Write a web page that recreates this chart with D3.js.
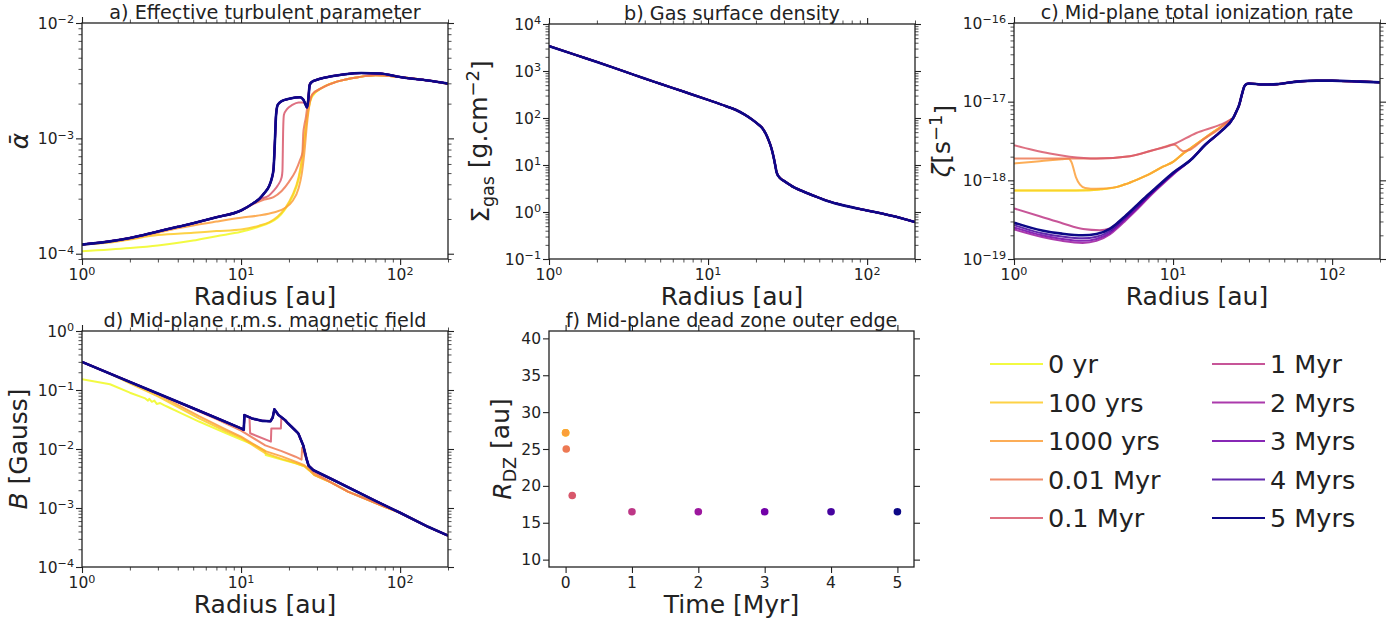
<!DOCTYPE html>
<html>
<head>
<meta charset="utf-8">
<script src="https://cdn.jsdelivr.net/npm/d3@7"></script>
<style>
  body { margin: 0; background: #fff; }
  svg { font-family: "DejaVu Sans", sans-serif; }
</style>
</head>
<body>
<svg id="fig" width="1400" height="624"></svg>
<script>
// --- Zeitschritte / Legende
const seriesNames = ["0 yr", "100 yrs", "1000 yrs", "0.01 Myr", "0.1 Myr",
                     "1 Myr", "2 Myrs", "3 Myrs", "4 Myrs", "5 Myrs"];
const timesMyr = [0, 0.0001, 0.001, 0.01, 0.1, 1, 2, 3, 4, 5];
const rdzAu    = [27.2, 27.2, 27.2, 25.0, 18.7, 16.5, 16.5, 16.5, 16.5, 16.5];

// --- a) alpha effektiv  [r (au), alpha]
const alphaOuterLow  = [[32,2.72e-3],[40,3.1e-3],[55,3.4e-3],[70,3.52e-3],[100,3.4e-3],[150,3.17e-3],[200,2.97e-3]];
const alphaOuterHigh = [[30,3.22e-3],[37,3.45e-3],[45,3.6e-3],[57,3.69e-3],[75,3.65e-3],[100,3.4e-3],[150,3.17e-3],[200,2.98e-3]];
const alpha0yr   = [[1,1.05e-4],[2,1.12e-4],[3,1.18e-4],[5,1.3e-4],[7,1.42e-4],[10,1.55e-4],[13,1.72e-4],[15,1.85e-4],[17,2.05e-4],[19,2.45e-4],[21,3.1e-4],[23,4.4e-4],[24,6e-4],[25,9.8e-4],[26,1.5e-3],[27,2.0e-3],[28,2.3e-3]];
const alpha100yr = [[1,1.2e-4],[1.5,1.25e-4],[2,1.33e-4],[3,1.45e-4],[5,1.52e-4],[7,1.57e-4],[10,1.62e-4],[13,1.75e-4],[15,1.87e-4],[17,2.1e-4],[19,2.5e-4],[21,3.2e-4],[23,4.6e-4],[24,6.3e-4],[25,1.0e-3],[26,1.55e-3],[27,2.05e-3],[28,2.35e-3]];
const alpha1000yr = [[1,1.2e-4],[2,1.34e-4],[3,1.52e-4],[4,1.66e-4],[5,1.76e-4],[7,1.9e-4],[10,2.05e-4],[13,2.15e-4],[16,2.28e-4],[19,2.5e-4],[21,2.85e-4],[23,3.7e-4],[24,4.8e-4],[25,7.5e-4],[26,1.35e-3],[27,2.0e-3],[28,2.4e-3]];
const alpha001Myr = [[1,1.2e-4],[2,1.37e-4],[3,1.56e-4],[5,1.84e-4],[7,2.07e-4],[10,2.37e-4],[12,2.7e-4],[14,2.95e-4],[16,3.1e-4],[18,3.5e-4],[20,4.2e-4],[22,5.2e-4],[23.5,6.5e-4],[24.3,7.5e-4],[24.6,1.1e-3],[25,1.3e-3],[25.5,1.5e-3],[26,1.8e-3],[27,2.1e-3],[28,2.4e-3]];
const alpha01Myr  = [[1,1.2e-4],[2,1.37e-4],[3,1.56e-4],[5,1.84e-4],[7,2.07e-4],[10,2.37e-4],[12,2.75e-4],[13,2.95e-4],[15,3.2e-4],[16,3.5e-4],[17,3.9e-4],[18,4.6e-4],[18.2,5.2e-4],[18.4,1.2e-3],[18.6,1.6e-3],[19.5,1.8e-3],[21,1.95e-3],[23,2.05e-3],[24.5,2.05e-3],[25.5,1.95e-3],[26,1.9e-3],[26.5,2.3e-3],[27,2.95e-3],[28,3.1e-3]];
const alphaLate   = [[1,1.2e-4],[1.5,1.28e-4],[2,1.37e-4],[3,1.56e-4],[4,1.71e-4],[5,1.84e-4],[7,2.07e-4],[10,2.37e-4],[12,2.75e-4],[13,2.98e-4],[14,3.35e-4],[15,3.85e-4],[15.6,4.5e-4],[16,5.4e-4],[16.3,9e-4],[16.6,1.6e-3],[17,1.95e-3],[18,2.1e-3],[20,2.2e-3],[22,2.26e-3],[23.5,2.27e-3],[24.6,2.17e-3],[25.5,1.95e-3],[26,1.85e-3],[26.5,2.2e-3],[27,2.9e-3],[28,3.1e-3]];

// --- b) Gasflächendichte (für alle Zeiten gleich)
const sigmaGas = [[1,3400],[1.5,2150],[2,1560],[3,970],[4,690],[5,535],[7,365],[10,243],[13,178],[15,148],[17,118],[19,92],[21,70],[22,60],[23,47],[24,34],[25,23],[25.8,15],[26.5,9.5],[27,6.9],[28.3,5.3],[30,4.6],[35,3.3],[40,2.7],[50,2.0],[57,1.7],[70,1.4],[100,1.08],[150,0.8],[200,0.61]];

// --- c) Ionisationsrate
const zetaOuter = [[24,6.3e-18],[25,7.5e-18],[26,9e-18],[27,1.2e-17],[28,1.55e-17],[29,1.68e-17],[30,1.7e-17],[37,1.65e-17],[45,1.67e-17],[60,1.8e-17],[80,1.85e-17],[100,1.85e-17],[150,1.8e-17],[200,1.76e-17]];
const zetaRise  = [[13,1.84e-18],[16,2.85e-18],[20,4.2e-18]];
const zeta0yr    = [[1,7.4e-19],[2,7.4e-19],[3,7.5e-19],[3.5,7.7e-19],[4.4,8.2e-19],[5,8.9e-19],[6,1.03e-18],[7,1.18e-18],[8.7,1.5e-18],[10,1.72e-18],[11.6,2.2e-18],[13,2.6e-18],[16.3,3.6e-18],[20,4.8e-18],[23,5.9e-18]];
const zeta1000yr = [[1,1.64e-18],[1.45,1.75e-18],[2,1.85e-18],[2.2,1.88e-18],[2.3,1.7e-18],[2.45,1.1e-18],[2.6,8.8e-19],[2.8,8.0e-19],[3.3,7.8e-19],[4.4,8.2e-19],[5,8.9e-19],[6,1.03e-18],[7,1.18e-18],[8.7,1.5e-18],[10,1.72e-18],[11.6,2.2e-18],[13,2.6e-18],[16.3,3.6e-18],[20,4.8e-18],[23,5.9e-18]];
const zeta001Myr = [[1,1.9e-18],[2.2,1.9e-18],[3.3,1.9e-18],[5.35,2.03e-18],[7.2,2.36e-18],[9,2.7e-18],[10,2.85e-18],[10.5,2.75e-18],[11,2.5e-18],[11.6,2.35e-18],[12.8,2.45e-18],[15.5,3.3e-18],[19.8,4.6e-18],[23,5.9e-18]];
const zeta01Myr  = [[1,2.8e-18],[1.3,2.45e-18],[1.68,2.19e-18],[2.24,2.0e-18],[3.3,1.9e-18],[5.35,2.03e-18],[7.16,2.36e-18],[10,2.85e-18],[14,4.0e-18],[19.8,5.1e-18],[23,5.9e-18]];
const zeta1Myr   = [[1,4.4e-19],[1.45,3.5e-19],[2.03,2.83e-19],[2.72,2.4e-19],[3.46,2.32e-19],[4,2.45e-19],[4.5,2.9e-19],[5,3.5e-19],[6,4.94e-19],[7,6.6e-19],[8,8.4e-19],[10,1.25e-18]];
const zeta2Myr   = [[1,2.38e-19],[1.5,1.9e-19],[2,1.7e-19],[2.7,1.6e-19],[3.3,1.7e-19],[4,2.05e-19],[4.5,2.5e-19],[5,3.05e-19],[6,4.35e-19],[7,6.0e-19],[8,7.8e-19],[10,1.18e-18]];
const zeta3Myr   = [[1,2.52e-19],[1.5,2.0e-19],[2,1.8e-19],[2.7,1.7e-19],[3.3,1.8e-19],[4,2.15e-19],[4.5,2.62e-19],[5,3.2e-19],[6,4.5e-19],[7,6.2e-19],[8,8.0e-19],[10,1.2e-18]];
const zeta4Myr   = [[1,2.7e-19],[1.5,2.12e-19],[2,1.93e-19],[2.7,1.83e-19],[3.3,1.92e-19],[4,2.27e-19],[4.5,2.75e-19],[5,3.35e-19],[6,4.7e-19],[7,6.4e-19],[8,8.2e-19],[10,1.22e-18]];
const zeta5Myr   = [[1,2.9e-19],[1.5,2.3e-19],[2,2.1e-19],[2.7,2.0e-19],[3.3,2.08e-19],[4,2.42e-19],[4.5,2.9e-19],[5,3.5e-19],[6,4.94e-19],[7,6.6e-19],[8,8.4e-19],[10,1.25e-18]];

// --- d) Magnetfeld
const bOuterLow  = [[29,0.0036],[37,0.0027],[47,0.0019],[60,0.00145],[80,0.00105],[100,0.00083],[150,0.00048],[200,0.00034]];
const bOuterHigh = [[28.4,0.0044],[37,0.0031],[47,0.00225],[70,0.00132],[100,0.00083],[150,0.00048],[200,0.00034]];
const b0yr    = [[1,0.152],[1.5,0.125],[2,0.09],[2.5,0.072],[2.6,0.066],[2.65,0.071],[2.75,0.063],[2.85,0.066],[2.95,0.058],[3.1,0.06],[3.3,0.055],[3.5,0.051],[4,0.043],[5.44,0.0292],[8,0.0186],[10,0.0145],[12,0.0118],[14.2,0.0093],[14.3,0.0079],[18,0.0066],[22,0.0057],[25,0.0051],[27,0.0043]];
const b100yr  = [[1,0.3],[1.5,0.19],[2,0.13],[3,0.078],[5.44,0.0331],[8,0.02],[10,0.0155],[14.2,0.0085],[18,0.0068],[22,0.0058],[25,0.0051],[27,0.0043]];
const b1000yr = [[1,0.3],[2,0.136],[3,0.084],[5.44,0.036],[8,0.0215],[10,0.0162],[14.2,0.0092],[18,0.0075],[22,0.0061],[25,0.0053],[27,0.0044]];
const b001Myr = [[1,0.3],[3,0.087],[5,0.048],[7,0.032],[10,0.0205],[14.2,0.0115],[18,0.0092],[22,0.0074],[24,0.0066],[24.2,0.0105],[25.5,0.0072],[26.6,0.0052],[28.4,0.0041]];
const b01Myr  = [[1,0.3],[2,0.137],[3,0.087],[5,0.049],[7,0.0335],[10,0.0224],[10.4,0.0212],[10.5,0.0376],[11.3,0.034],[11.4,0.0185],[15.4,0.0133],[15.5,0.0223],[17.8,0.0223],[17.9,0.033],[18.9,0.031],[19.8,0.027],[21.8,0.021],[22.9,0.0184],[24,0.0135],[24.6,0.0115],[25.3,0.0085],[25.8,0.0068],[26.6,0.0052]];
const bLate   = [[1,0.3],[2,0.137],[3,0.087],[5,0.049],[7,0.0335],[10,0.0224],[10.4,0.0212],[10.5,0.0376],[11.7,0.033],[13.5,0.030],[15.3,0.0295],[15.8,0.034],[16.2,0.047],[17.2,0.0376],[18.9,0.031],[19.8,0.027],[21.8,0.021],[22.9,0.0184],[24,0.0135],[24.6,0.0115],[25.3,0.0085],[25.8,0.0068],[26.6,0.0052]];

// Serien je Panel (Reihenfolge = seriesNames)
const alphaSeries = [alpha0yr.concat(alphaOuterLow), alpha100yr.concat(alphaOuterLow), alpha1000yr.concat(alphaOuterLow),
  alpha001Myr.concat(alphaOuterLow), alpha01Myr.concat(alphaOuterHigh)]
  .concat(d3.range(5).map(() => alphaLate.concat(alphaOuterHigh)));
const sigmaSeries = seriesNames.map(() => sigmaGas);
const zetaSeries = [zeta0yr, zeta0yr, zeta1000yr, zeta001Myr, zeta01Myr].map(s => s.concat(zetaOuter))
  .concat([zeta1Myr, zeta2Myr, zeta3Myr, zeta4Myr, zeta5Myr].map(s => s.concat(zetaRise, zetaOuter)));
const bSeries = [b0yr, b100yr, b1000yr].map(s => s.concat(bOuterLow))
  .concat([b001Myr.concat(bOuterLow.slice(1)), b01Myr.concat(bOuterHigh)])
  .concat(d3.range(5).map(() => bLate.concat(bOuterHigh)));

const color = i => d3.interpolatePlasma(1 - i / 9);

const svg = d3.select('#fig');
const INK = '#222';

function sup(sel, base, exp) {
  sel.text(base);
  sel.append('tspan').attr('dy', '-0.45em').attr('font-size', '0.72em').text(exp);
}
function expLabel(v) {
  const k = Math.round(Math.log10(v));
  return k < 0 ? '\u2212' + (-k) : String(k);
}
function logTicks(dom) {
  const lo = Math.floor(Math.log10(dom[0])), hi = Math.ceil(Math.log10(dom[1]));
  const major = [], minor = [];
  for (let k = lo; k <= hi; k++) {
    const b = Math.pow(10, k);
    if (b >= dom[0] * 0.999 && b <= dom[1] * 1.001) major.push(b);
    for (let m = 2; m <= 9; m++) if (m * b >= dom[0] && m * b <= dom[1]) minor.push(m * b);
  }
  return { major, minor };
}

function drawTicks(g, box, scale, side, values, size) {
  let ax, tr;
  if (side === 'bottom') { ax = d3.axisBottom(scale); tr = `translate(0,${box.y1})`; }
  if (side === 'top')    { ax = d3.axisTop(scale);    tr = `translate(0,${box.y0})`; }
  if (side === 'left')   { ax = d3.axisLeft(scale);   tr = `translate(${box.x0},0)`; }
  if (side === 'right')  { ax = d3.axisRight(scale);  tr = `translate(${box.x1},0)`; }
  const a = g.append('g').attr('transform', tr)
    .call(ax.tickValues(values).tickSize(size).tickFormat(''));
  a.select('.domain').remove();
  a.selectAll('line').attr('stroke', INK).attr('stroke-width', size > 4 ? 1.1 : 0.8);
}

function panel(box, opt) {
  const g = svg.append('g');
  const x = opt.xLog ? d3.scaleLog().domain(opt.xDom).range([box.x0, box.x1])
                     : d3.scaleLinear().domain(opt.xDom).range([box.x0, box.x1]);
  const y = opt.yLog ? d3.scaleLog().domain(opt.yDom).range([box.y1, box.y0])
                     : d3.scaleLinear().domain(opt.yDom).range([box.y1, box.y0]);
  const id = 'clip' + opt.key;
  svg.append('clipPath').attr('id', id).append('rect')
    .attr('x', box.x0).attr('y', box.y0).attr('width', box.x1 - box.x0).attr('height', box.y1 - box.y0);

  // Ticks
  const xt = opt.xLog ? logTicks(opt.xDom) : { major: opt.xTicks, minor: [] };
  const yt = opt.yLog ? logTicks(opt.yDom) : { major: opt.yTicks, minor: [] };
  ['bottom', 'top'].forEach(s => { drawTicks(g, box, x, s, xt.major, 6); if (xt.minor.length) drawTicks(g, box, x, s, xt.minor, 3.5); });
  ['left', 'right'].forEach(s => { drawTicks(g, box, y, s, yt.major, 6); if (yt.minor.length) drawTicks(g, box, y, s, yt.minor, 3.5); });

  // Tick-Beschriftung
  xt.major.forEach(v => {
    const t = g.append('text').attr('x', x(v)).attr('y', box.y1 + 21)
      .attr('text-anchor', 'middle').attr('font-size', 15.5).attr('fill', INK);
    if (opt.xLog) sup(t, '10', expLabel(v)); else t.text(v);
  });
  yt.major.forEach(v => {
    const t = g.append('text').attr('x', box.x0 - 8).attr('y', y(v) + 5.5)
      .attr('text-anchor', 'end').attr('font-size', 15.5).attr('fill', INK);
    if (opt.yLog) sup(t, '10', expLabel(v)); else t.text(v);
  });

  // Titel + Achsentitel
  g.append('text').attr('x', (box.x0 + box.x1) / 2).attr('y', box.y0 - 4)
    .attr('text-anchor', 'middle').attr('font-size', 19.2).attr('fill', INK).text(opt.title);
  g.append('text').attr('x', (box.x0 + box.x1) / 2).attr('y', box.y1 + 46)
    .attr('text-anchor', 'middle').attr('font-size', 25).attr('fill', INK).text(opt.xLabel);
  const yl = g.append('text')
    .attr('transform', `translate(${opt.yLabelX},${(box.y0 + box.y1) / 2}) rotate(-90)`)
    .attr('text-anchor', 'middle').attr('font-size', 25).attr('fill', INK);
  opt.yLabel(yl);

  const plot = g.append('g').attr('clip-path', `url(#${id})`);
  g.append('rect').attr('x', box.x0).attr('y', box.y0)
    .attr('width', box.x1 - box.x0).attr('height', box.y1 - box.y0)
    .attr('fill', 'none').attr('stroke', INK).attr('stroke-width', 1.3);
  return { plot, x, y };
}

function drawLines(p, series, curve) {
  const line = d3.line().x(d => p.x(d[0])).y(d => p.y(d[1])).curve(curve);
  series.forEach((s, i) => {
    p.plot.append('path').attr('d', line(s)).attr('fill', 'none')
      .attr('stroke', color(i)).attr('stroke-opacity', i === 9 ? 1 : 0.85)
      .attr('stroke-width', i === 9 ? 2.6 : 2)
      .attr('stroke-linejoin', 'round');
  });
}

// a)
const pa = panel({ x0: 82, x1: 448, y0: 23, y1: 259 }, {
  key: 'a', xLog: true, yLog: true, xDom: [1, 200], yDom: [9e-5, 1e-2],
  title: 'a) Effective turbulent parameter', xLabel: 'Radius [au]', yLabelX: 28,
  yLabel: t => t.attr('font-style', 'italic').text('\u1FB1')
});
drawLines(pa, alphaSeries, d3.curveMonotoneX);

// b)
const pb = panel({ x0: 549, x1: 915, y0: 24, y1: 259 }, {
  key: 'b', xLog: true, yLog: true, xDom: [1, 200], yDom: [0.1, 1e4],
  title: 'b) Gas surface density', xLabel: 'Radius [au]', yLabelX: 489,
  yLabel: t => {
    t.text('\u03A3');
    t.append('tspan').attr('dy', '0.3em').attr('font-size', '0.7em').text('gas');
    t.append('tspan').attr('dy', '-0.3em').text(' [g.cm');
    t.append('tspan').attr('dy', '-0.45em').attr('font-size', '0.72em').text('\u22122');
    t.append('tspan').attr('dy', '0.45em').text(']');
  }
});
drawLines(pb, sigmaSeries, d3.curveMonotoneX);

// c)
const pc = panel({ x0: 1014, x1: 1380, y0: 23, y1: 259 }, {
  key: 'c', xLog: true, yLog: true, xDom: [1, 200], yDom: [1e-19, 1e-16],
  title: 'c) Mid-plane total ionization rate', xLabel: 'Radius [au]', yLabelX: 950,
  yLabel: t => {
    t.append('tspan').attr('font-style', 'italic').text('\u03B6');
    t.append('tspan').text('[s');
    t.append('tspan').attr('dy', '-0.45em').attr('font-size', '0.72em').text('\u22121');
    t.append('tspan').attr('dy', '0.45em').text(']');
  }
});
drawLines(pc, zetaSeries, d3.curveMonotoneX);

// d)
const pd = panel({ x0: 82, x1: 448, y0: 331, y1: 567 }, {
  key: 'd', xLog: true, yLog: true, xDom: [1, 200], yDom: [1e-4, 1],
  title: 'd) Mid-plane r.m.s. magnetic field', xLabel: 'Radius [au]', yLabelX: 27,
  yLabel: t => {
    t.append('tspan').attr('font-style', 'italic').text('B');
    t.append('tspan').text(' [Gauss]');
  }
});
drawLines(pd, bSeries, d3.curveLinear);

// f)
const pf = panel({ x0: 549, x1: 914, y0: 331, y1: 567 }, {
  key: 'f', xLog: false, yLog: false, xDom: [-0.25, 5.25], yDom: [9, 41],
  xTicks: [0, 1, 2, 3, 4, 5], yTicks: [10, 15, 20, 25, 30, 35, 40],
  title: 'f) Mid-plane dead zone outer edge', xLabel: 'Time [Myr]', yLabelX: 511,
  yLabel: t => {
    t.append('tspan').attr('font-style', 'italic').text('R');
    t.append('tspan').attr('dy', '0.3em').attr('font-size', '0.7em').text('DZ');
    t.append('tspan').attr('dy', '-0.3em').text(' [au]');
  }
});
pf.plot.selectAll('circle').data(timesMyr).enter().append('circle')
  .attr('cx', d => pf.x(d)).attr('cy', (d, i) => pf.y(rdzAu[i]))
  .attr('r', 3.8).attr('fill', (d, i) => color(i));

// Legende
const leg = svg.append('g');
seriesNames.forEach((name, i) => {
  const col = Math.floor(i / 5), row = i % 5;
  const lx = col ? 1212 : 990, ly = 364 + row * 38.5;
  leg.append('line').attr('x1', lx).attr('x2', lx + 53).attr('y1', ly).attr('y2', ly)
    .attr('stroke', color(i)).attr('stroke-width', 2).attr('stroke-opacity', i === 9 ? 1 : 0.85);
  leg.append('text').attr('x', lx + 58).attr('y', ly + 9)
    .attr('font-size', 25.5).attr('fill', INK).text(name);
});
</script>
</body>
</html>
